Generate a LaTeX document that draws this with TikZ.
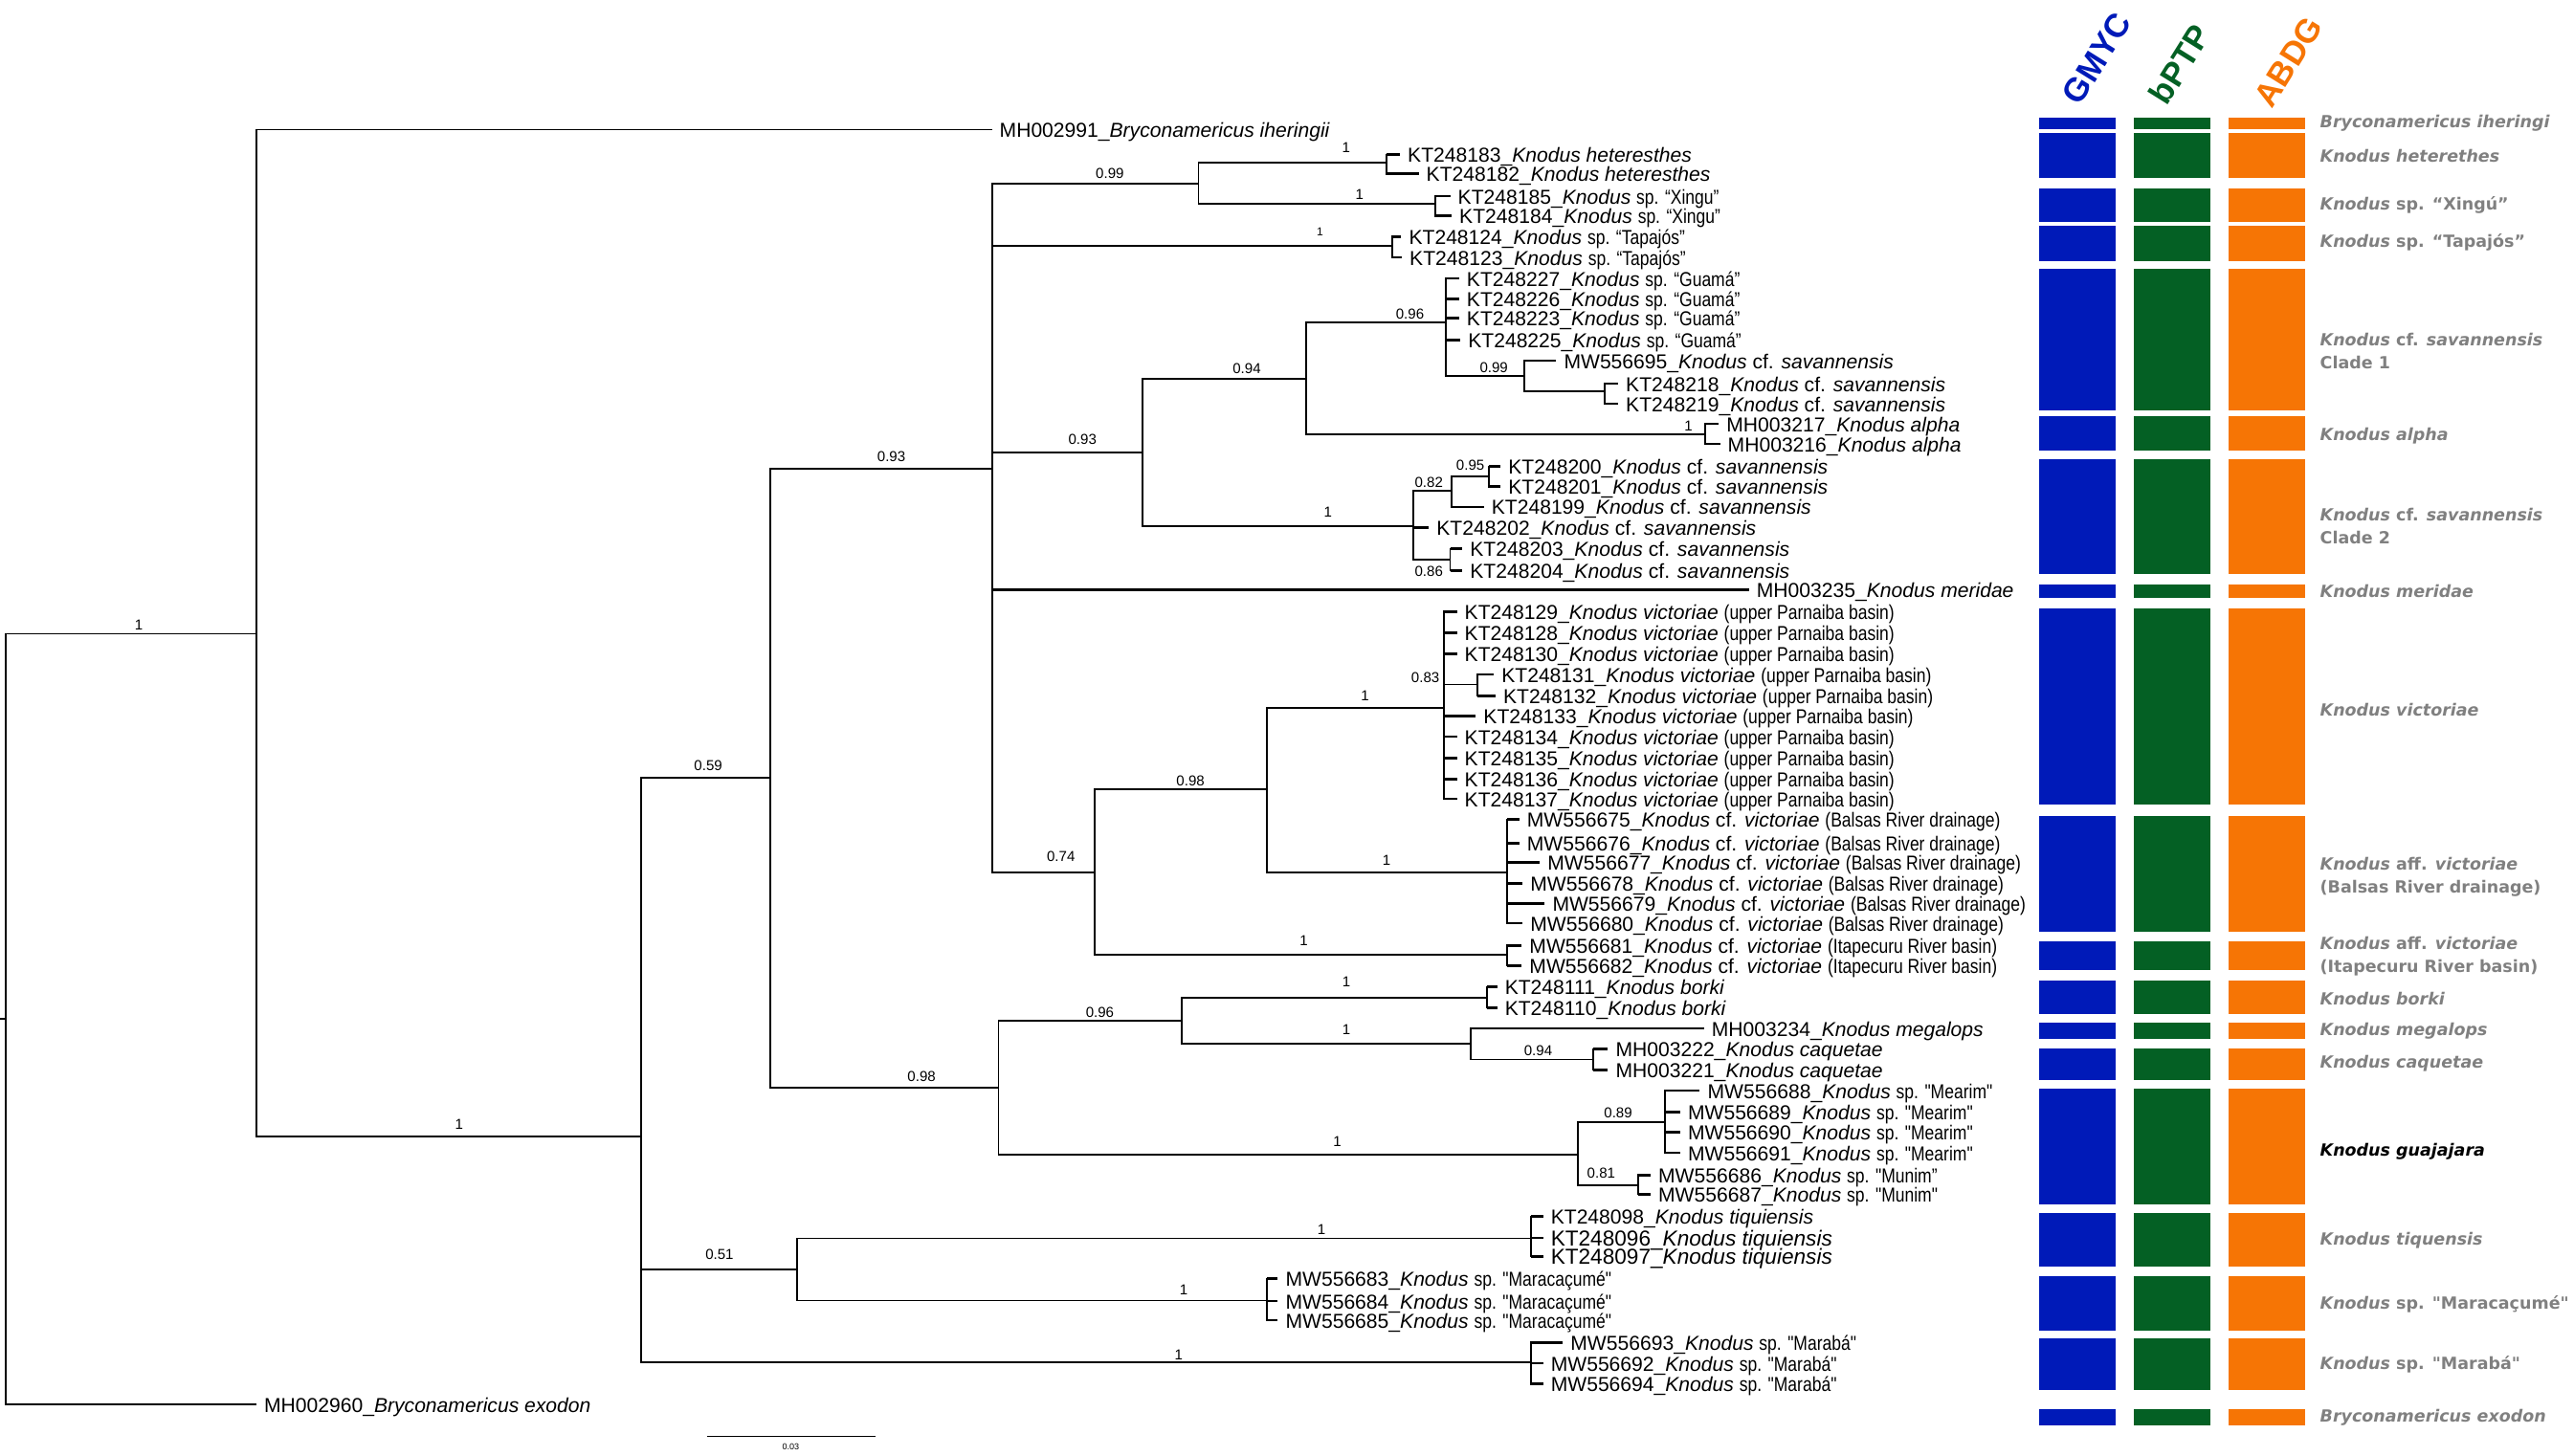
\documentclass[tikz,border=0pt]{standalone}
\usepackage{fontspec}
\newfontfamily\tipfont{Liberation Sans}
\newfontfamily\narrowfont{Liberation Sans}[FakeStretch=0.83]
\newfontfamily\sidefont{DejaVu Sans}
\newcommand{\nw}[1]{{\narrowfont #1}}
\definecolor{gmycblue}{RGB}{0, 26, 184}
\definecolor{bptpgreen}{RGB}{4, 96, 36}
\definecolor{abdgorange}{RGB}{246, 117, 5}
\definecolor{cladegray}{RGB}{128, 128, 128}

\begin{document}
\begin{tikzpicture}[
  x=0.02cm, y=-0.02cm,
  branch/.style={line width=0.6pt},
  stub/.style={line width=0.85pt},
  tip/.style={anchor=west, inner xsep=2.5pt, inner ysep=0pt, font=\tipfont\fontsize{7}{8}\selectfont, text height=1.5ex, text depth=.25ex},
  bigtip/.style={tip, font=\tipfont\fontsize{7.5}{8}\selectfont},
  prob/.style={inner sep=0pt, font=\tipfont\fontsize{5}{6}\selectfont},
  clade/.style={anchor=west, inner sep=0pt, align=left, text=cladegray, font=\sidefont\bfseries\itshape\fontsize{5.8}{8}\selectfont},
  method/.style={anchor=base west, inner sep=0pt, rotate=58, font=\tipfont\bfseries\fontsize{11.5}{12}\selectfont}
]
  \useasboundingbox (0,0) rectangle (1568,887);

  % Internal nodes
  \coordinate (rootstub) at (0,621);
  \coordinate (root) at (3.3,621);
  \coordinate (nA) at (156.2,386.2);
  \coordinate (nB) at (390.5,692.3);
  \coordinate (nC) at (469,473.8);
  \coordinate (nD) at (485.4,773.3);
  \coordinate (nE) at (604.4,285.8);
  \coordinate (nF) at (608.2,662.6);
  \coordinate (nG) at (730.1,111.9);
  \coordinate (nHet) at (844.6,99.2);
  \coordinate (nXin) at (874.4,124.1);
  \coordinate (nTap) at (847.9,149.7);
  \coordinate (nH) at (696.2,275.6);
  \coordinate (nJ) at (795.5,230.7);
  \coordinate (nK) at (861,320.4);
  \coordinate (nL) at (880.6,196.3);
  \coordinate (nM) at (1038.8,264.8);
  \coordinate (nN) at (928.4,229);
  \coordinate (nO) at (977.5,238.6);
  \coordinate (nP) at (884.3,299.1);
  \coordinate (nR) at (907.2,290.3);
  \coordinate (nQ) at (883.4,340.9);
  \coordinate (nI) at (666.7,531.4);
  \coordinate (nS) at (771.8,480.9);
  \coordinate (nT) at (879.4,431.3);
  \coordinate (nV) at (899.8,417.1);
  \coordinate (nU) at (918.2,531.4);
  \coordinate (nIta) at (918.2,581.9);
  \coordinate (nW) at (719.9,621.8);
  \coordinate (nBor) at (905.9,607.8);
  \coordinate (nY) at (895.7,635.8);
  \coordinate (nZ) at (970.5,645.5);
  \coordinate (nX) at (961.1,703.4);
  \coordinate (nAA) at (1014.3,683.9);
  \coordinate (nAB) at (997.9,722.2);
  \coordinate (nTiq) at (932.5,754.5);
  \coordinate (nMar) at (771.8,792.4);
  \coordinate (nMab) at (932.5,830);

  % Tips
  \node[tip] (t991) at (604.2,79) {MH002991\_\textit{Bryconamericus iheringii}};
  \node[tip] (t183) at (852.8,94.1) {KT248183\_\textit{Knodus heteresthes}};
  \node[tip] (t182) at (864.2,105.9) {KT248182\_\textit{Knodus heteresthes}};
  \node[tip] (t185) at (883.4,119.6) {KT248185\_\textit{Knodus} \nw{sp. “Xingu”}};
  \node[tip] (t184) at (884.3,131.5) {KT248184\_\textit{Knodus} \nw{sp. “Xingu”}};
  \node[tip] (t124) at (853.6,144.2) {KT248124\_\textit{Knodus} \nw{sp. “Tapajós”}};
  \node[tip] (t123) at (854,156.8) {KT248123\_\textit{Knodus} \nw{sp. “Tapajós”}};
  \node[tip] (t227) at (888.8,169.7) {KT248227\_\textit{Knodus} \nw{sp. “Guamá”}};
  \node[tip] (t226) at (888.8,182) {KT248226\_\textit{Knodus} \nw{sp. “Guamá”}};
  \node[tip] (t223) at (888.8,193.9) {KT248223\_\textit{Knodus} \nw{sp. “Guamá”}};
  \node[tip] (t225) at (889.6,207.1) {KT248225\_\textit{Knodus} \nw{sp. “Guamá”}};
  \node[tip] (t695) at (948,219.8) {MW556695\_\textit{Knodus} cf. \textit{savannensis}};
  \node[tip] (t218) at (985.7,233.7) {KT248218\_\textit{Knodus} cf. \textit{savannensis}};
  \node[tip] (t219) at (985.7,246) {KT248219\_\textit{Knodus} cf. \textit{savannensis}};
  \node[tip] (t217) at (1047,258.3) {MH003217\_\textit{Knodus alpha}};
  \node[tip] (t216) at (1047.8,270.5) {MH003216\_\textit{Knodus alpha}};
  \node[tip] (t200) at (914.1,284.2) {KT248200\_\textit{Knodus} cf. \textit{savannensis}};
  \node[tip] (t201) at (914.1,296.5) {KT248201\_\textit{Knodus} cf. \textit{savannensis}};
  \node[tip] (t199) at (903.9,308.8) {KT248199\_\textit{Knodus} cf. \textit{savannensis}};
  \node[tip] (t202) at (870.4,321.4) {KT248202\_\textit{Knodus} cf. \textit{savannensis}};
  \node[tip] (t203) at (890.8,334.3) {KT248203\_\textit{Knodus} cf. \textit{savannensis}};
  \node[tip] (t204) at (890.8,347.6) {KT248204\_\textit{Knodus} cf. \textit{savannensis}};
  \node[tip] (t235) at (1065.4,359.5) {MH003235\_\textit{Knodus meridae}};
  \node[tip] (t129) at (887.5,372.6) {KT248129\_\textit{Knodus victoriae} \nw{(upper Parnaiba basin)}};
  \node[tip] (t128) at (887.5,385.6) {KT248128\_\textit{Knodus victoriae} \nw{(upper Parnaiba basin)}};
  \node[tip] (t130) at (887.5,398.3) {KT248130\_\textit{Knodus victoriae} \nw{(upper Parnaiba basin)}};
  \node[tip] (t131) at (910,410.9) {KT248131\_\textit{Knodus victoriae} \nw{(upper Parnaiba basin)}};
  \node[tip] (t132) at (911,423.9) {KT248132\_\textit{Knodus victoriae} \nw{(upper Parnaiba basin)}};
  \node[tip] (t133) at (899,436.2) {KT248133\_\textit{Knodus victoriae} \nw{(upper Parnaiba basin)}};
  \node[tip] (t134) at (887.5,448.8) {KT248134\_\textit{Knodus victoriae} \nw{(upper Parnaiba basin)}};
  \node[tip] (t135) at (887.5,462) {KT248135\_\textit{Knodus victoriae} \nw{(upper Parnaiba basin)}};
  \node[tip] (t136) at (887.5,474.6) {KT248136\_\textit{Knodus victoriae} \nw{(upper Parnaiba basin)}};
  \node[tip] (t137) at (887.5,486.7) {KT248137\_\textit{Knodus victoriae} \nw{(upper Parnaiba basin)}};
  \node[tip] (t675) at (925.5,499.3) {MW556675\_\textit{Knodus} cf. \textit{victoriae} \nw{(Balsas River drainage)}};
  \node[tip] (t676) at (925.5,513.9) {MW556676\_\textit{Knodus} cf. \textit{victoriae} \nw{(Balsas River drainage)}};
  \node[tip] (t677) at (938,525.5) {MW556677\_\textit{Knodus} cf. \textit{victoriae} \nw{(Balsas River drainage)}};
  \node[tip] (t678) at (927.5,538.2) {MW556678\_\textit{Knodus} cf. \textit{victoriae} \nw{(Balsas River drainage)}};
  \node[tip] (t679) at (941,550.4) {MW556679\_\textit{Knodus} cf. \textit{victoriae} \nw{(Balsas River drainage)}};
  \node[tip] (t680) at (927.5,562.5) {MW556680\_\textit{Knodus} cf. \textit{victoriae} \nw{(Balsas River drainage)}};
  \node[tip] (t681) at (927,576.1) {MW556681\_\textit{Knodus} cf. \textit{victoriae} \nw{(Itapecuru River basin)}};
  \node[tip] (t682) at (927,588.3) {MW556682\_\textit{Knodus} cf. \textit{victoriae} \nw{(Itapecuru River basin)}};
  \node[tip] (t111) at (912,601.4) {KT248111\_\textit{Knodus borki}};
  \node[tip] (t110) at (912,614) {KT248110\_\textit{Knodus borki}};
  \node[tip] (t234) at (1038,626.6) {MH003234\_\textit{Knodus megalops}};
  \node[tip] (t222) at (979.5,639.2) {MH003222\_\textit{Knodus caquetae}};
  \node[tip] (t221) at (979.5,651.9) {MH003221\_\textit{Knodus caquetae}};
  \node[tip] (t688) at (1035.5,664.5) {MW556688\_\textit{Knodus} \nw{sp. "Mearim"}};
  \node[tip] (t689) at (1023.5,677.7) {MW556689\_\textit{Knodus} \nw{sp. "Mearim"}};
  \node[tip] (t690) at (1023.5,689.8) {MW556690\_\textit{Knodus} \nw{sp. "Mearim"}};
  \node[tip] (t691) at (1023.5,702.4) {MW556691\_\textit{Knodus} \nw{sp. "Mearim"}};
  \node[tip] (t686) at (1005.5,716) {MW556686\_\textit{Knodus} \nw{sp. "Munim”}};
  \node[tip] (t687) at (1005.5,727.7) {MW556687\_\textit{Knodus} \nw{sp. "Munim"}};
  \node[tip] (t098) at (940,741.3) {KT248098\_\textit{Knodus tiquiensis}};
  \node[bigtip] (t096) at (940,754.3) {KT248096\_\textit{Knodus tiquiensis}};
  \node[bigtip] (t097) at (940,765.5) {KT248097\_\textit{Knodus tiquiensis}};
  \node[tip] (t683) at (778.4,779.1) {MW556683\_\textit{Knodus} \nw{sp. "Maracaçumé"}};
  \node[tip] (t684) at (778.4,792.7) {MW556684\_\textit{Knodus} \nw{sp. "Maracaçumé"}};
  \node[tip] (t685) at (778.4,804.4) {MW556685\_\textit{Knodus} \nw{sp. "Maracaçumé"}};
  \node[tip] (t693) at (952,818) {MW556693\_\textit{Knodus} \nw{sp. "Marabá"}};
  \node[tip] (t692) at (940,830.6) {MW556692\_\textit{Knodus} \nw{sp. "Marabá"}};
  \node[tip] (t694) at (940,843.3) {MW556694\_\textit{Knodus} \nw{sp. "Marabá"}};
  \node[tip] (t960) at (156.2,855.9) {MH002960\_\textit{Bryconamericus exodon}};

  % Branches
  \draw[branch] (rootstub) -- (root);
  \draw[branch] (root) |- (nA) (root) |- (t960.west);
  \draw[branch] (nA) |- (t991.west) (nA) |- (nB);
  \draw[branch] (nB) |- (nC) (nB) |- (nD) (nB) |- (nMab);
  \draw[branch] (nC) |- (nE) (nC) |- (nF);
  \draw[branch] (nD) |- (nTiq) (nD) |- (nMar);
  \draw[branch] (nE) |- (nG) (nE) |- (nTap) (nE) |- (nH) (nE) |- (t235.west) (nE) |- (nI);
  \draw[branch] (nG) |- (nHet) (nG) |- (nXin);
  \draw[branch] (nHet) |- (t183.west) (nHet) |- (t182.west);
  \draw[branch] (nXin) |- (t185.west) (nXin) |- (t184.west);
  \draw[branch] (nTap) |- (t124.west) (nTap) |- (t123.west);
  \draw[branch] (nH) |- (nJ) (nH) |- (nK);
  \draw[branch] (nJ) |- (nL) (nJ) |- (nM);
  \draw[branch] (nL) |- (t227.west) (nL) |- (t226.west) (nL) |- (t223.west) (nL) |- (t225.west) (nL) |- (nN);
  \draw[branch] (nN) |- (t695.west) (nN) |- (nO);
  \draw[branch] (nO) |- (t218.west) (nO) |- (t219.west);
  \draw[branch] (nM) |- (t217.west) (nM) |- (t216.west);
  \draw[branch] (nK) |- (nP) (nK) |- (t202.west) (nK) |- (nQ);
  \draw[branch] (nP) |- (nR) (nP) |- (t199.west);
  \draw[branch] (nR) |- (t200.west) (nR) |- (t201.west);
  \draw[branch] (nQ) |- (t203.west) (nQ) |- (t204.west);
  \draw[branch] (nI) |- (nS) (nI) |- (nIta);
  \draw[branch] (nS) |- (nT) (nS) |- (nU);
  \draw[branch] (nT) |- (t129.west) (nT) |- (t128.west) (nT) |- (t130.west) (nT) |- (nV) (nT) |- (t133.west)
                (nT) |- (t134.west) (nT) |- (t135.west) (nT) |- (t136.west) (nT) |- (t137.west);
  \draw[branch] (nV) |- (t131.west) (nV) |- (t132.west);
  \draw[branch] (nU) |- (t675.west) (nU) |- (t676.west) (nU) |- (t677.west) (nU) |- (t678.west) (nU) |- (t679.west) (nU) |- (t680.west);
  \draw[branch] (nIta) |- (t681.west) (nIta) |- (t682.west);
  \draw[branch] (nF) |- (nW) (nF) |- (nX);
  \draw[branch] (nW) |- (nBor) (nW) |- (nY);
  \draw[branch] (nBor) |- (t111.west) (nBor) |- (t110.west);
  \draw[branch] (nY) |- (t234.west) (nY) |- (nZ);
  \draw[branch] (nZ) |- (t222.west) (nZ) |- (t221.west);
  \draw[branch] (nX) |- (nAA) (nX) |- (nAB);
  \draw[branch] (nAA) |- (t688.west) (nAA) |- (t689.west) (nAA) |- (t690.west) (nAA) |- (t691.west);
  \draw[branch] (nAB) |- (t686.west) (nAB) |- (t687.west);
  \draw[branch] (nTiq) |- (t098.west) (nTiq) |- (t096.west) (nTiq) |- (t097.west);
  \draw[branch] (nMar) |- (t683.west) (nMar) |- (t684.west) (nMar) |- (t685.west);
  \draw[branch] (nMab) |- (t693.west) (nMab) |- (t692.west) (nMab) |- (t694.west);

  % Terminal stubs, a little heavier
  \foreach \p/\t in {nHet/t183, nHet/t182, nXin/t185, nXin/t184, nTap/t124, nTap/t123,
                     nL/t227, nL/t226, nL/t223, nL/t225, nN/t695, nO/t218, nO/t219, nM/t217, nM/t216,
                     nK/t202, nP/t199, nR/t200, nR/t201, nQ/t203, nQ/t204, nE/t235,
                     nT/t129, nT/t128, nT/t130, nT/t133, nT/t134, nT/t135, nT/t136, nT/t137, nV/t131, nV/t132,
                     nU/t675, nU/t676, nU/t677, nU/t678, nU/t679, nU/t680, nIta/t681, nIta/t682,
                     nBor/t111, nBor/t110, nY/t234, nZ/t222, nZ/t221,
                     nAA/t688, nAA/t689, nAA/t690, nAA/t691, nAB/t686, nAB/t687,
                     nTiq/t098, nTiq/t096, nTiq/t097, nMar/t683, nMar/t684, nMar/t685,
                     nMab/t693, nMab/t692, nMab/t694}
    \draw[stub] (\p |- \t.west) -- (\t.west);

  % Posterior probabilities
  \node[prob] (pp1) at (84.6,380.6) {1};
  \node[prob] (pp2) at (279.7,684.9) {1};
  \node[prob] (pp3) at (431.4,466.3) {0.59};
  \node[prob] (pp4) at (438.3,764.2) {0.51};
  \node[prob] (pp5) at (543,278) {0.93};
  \node[prob] (pp6) at (561.4,655.7) {0.98};
  \node[prob] (pp7) at (676.1,105.9) {0.99};
  \node[prob, font=\tipfont\fontsize{4}{5}\selectfont] (pp8) at (804.1,141.1) {1};
  \node[prob] (pp9) at (659.4,267.9) {0.93};
  \node[prob] (pp10) at (646.3,521.7) {0.74};
  \node[prob] (pp11) at (820,90) {1};
  \node[prob] (pp12) at (828.2,118.6) {1};
  \node[prob] (pp13) at (759.5,224.3) {0.94};
  \node[prob] (pp14) at (809,311.8) {1};
  \node[prob] (pp15) at (858.9,191.2) {0.96};
  \node[prob] (pp16) at (1028.6,259.7) {1};
  \node[prob] (pp17) at (910,223.9) {0.99};
  \node[prob] (pp18) at (870.4,293.8) {0.82};
  \node[prob] (pp19) at (895.7,283.2) {0.95};
  \node[prob] (pp20) at (870.4,348.2) {0.86};
  \node[prob] (pp21) at (725.2,476) {0.98};
  \node[prob] (pp22) at (794.3,573.1) {1};
  \node[prob] (pp23) at (831.5,424.1) {1};
  \node[prob] (pp24) at (844.6,524) {1};
  \node[prob] (pp25) at (868.3,412.9) {0.83};
  \node[prob] (pp26) at (670,616.9) {0.96};
  \node[prob] (pp27) at (814.7,695.6) {1};
  \node[prob] (pp28) at (820.1,598.4) {1};
  \node[prob] (pp29) at (820.1,627.6) {1};
  \node[prob] (pp30) at (937,640.2) {0.94};
  \node[prob] (pp31) at (985.7,678.1) {0.89};
  \node[prob] (pp32) at (975.4,715) {0.81};
  \node[prob] (pp33) at (805,749) {1};
  \node[prob] (pp34) at (721.1,785.9) {1};
  \node[prob] (pp35) at (718,825.4) {1};

  % Scale bar
  \coordinate (sbA) at (430.6,875.3);
  \coordinate (sbB) at (533.6,875.3);
  \draw[line width=0.4pt] (sbA) -- (sbB);
  \node[prob, font=\tipfont\fontsize{3}{4}\selectfont] (sbl) at (481.7,881.8) {0.03};

  % Species delimitation bars
  \foreach \ya/\yb in {71.5/78.8, 81.1/108.2, 115/135, 137.6/159.1, 163.9/250, 253.7/274.6,
                       279.7/349.5, 356/364.5, 370.7/490, 497.2/567.8, 573.6/591.3, 597.4/617.7,
                       623.2/632.8, 638.9/657.8, 663.6/734.1, 739.1/771.6, 777.7/810.8,
                       815.4/847.1, 858.7/868.3} {
    \fill[gmycblue] (1242,\ya) rectangle (1288.5,\yb);
    \fill[bptpgreen] (1300,\ya) rectangle (1346.5,\yb);
    \fill[abdgorange] (1357.6,\ya) rectangle (1404,\yb);
  }

  % Method headers
  \node[method, text=gmycblue] (hGMYC) at (1267,65) {GMYC};
  \node[method, text=bptpgreen] (hbPTP) at (1320,65) {bPTP};
  \node[method, text=abdgorange] (hABDG) at (1384,67) {ABDG};

  % Species names
  \node[clade] (c1) at (1413,75.2) {Bryconamericus iheringi};
  \node[clade] (c2) at (1413,94.9) {Knodus heterethes};
  \node[clade] (c3) at (1413,124.9) {Knodus \textup{sp. “Xingú”}};
  \node[clade] (c4) at (1413,147.5) {Knodus \textup{sp. “Tapajós”}};
  \node[clade] (c5) at (1413,214.1) {Knodus \textup{cf.} savannensis\\\textup{Clade 1}};
  \node[clade] (c6) at (1413,265.6) {Knodus alpha};
  \node[clade] (c7) at (1413,320.7) {Knodus \textup{cf.} savannensis\\\textup{Clade 2}};
  \node[clade] (c8) at (1413,360.2) {Knodus meridae};
  \node[clade] (c9) at (1413,432.3) {Knodus victoriae};
  \node[clade] (c10) at (1413,534.1) {Knodus \textup{aff.} victoriae\\\textup{(Balsas River drainage)}};
  \node[clade] (c11) at (1413,582.7) {Knodus \textup{aff.} victoriae\\\textup{(Itapecuru River basin)}};
  \node[clade] (c12) at (1413,608.4) {Knodus borki};
  \node[clade] (c13) at (1413,628.2) {Knodus megalops};
  \node[clade] (c14) at (1413,648.2) {Knodus caquetae};
  \node[clade, text=black] (c15) at (1413,701.9) {Knodus guajajara};
  \node[clade] (c16) at (1413,755.6) {Knodus tiquensis};
  \node[clade] (c17) at (1413,794.8) {Knodus \textup{sp. "Maracaçumé"}};
  \node[clade] (c18) at (1413,831.1) {Knodus \textup{sp. "Marabá"}};
  \node[clade] (c19) at (1413,863.9) {Bryconamericus exodon};
\end{tikzpicture}
\end{document}
